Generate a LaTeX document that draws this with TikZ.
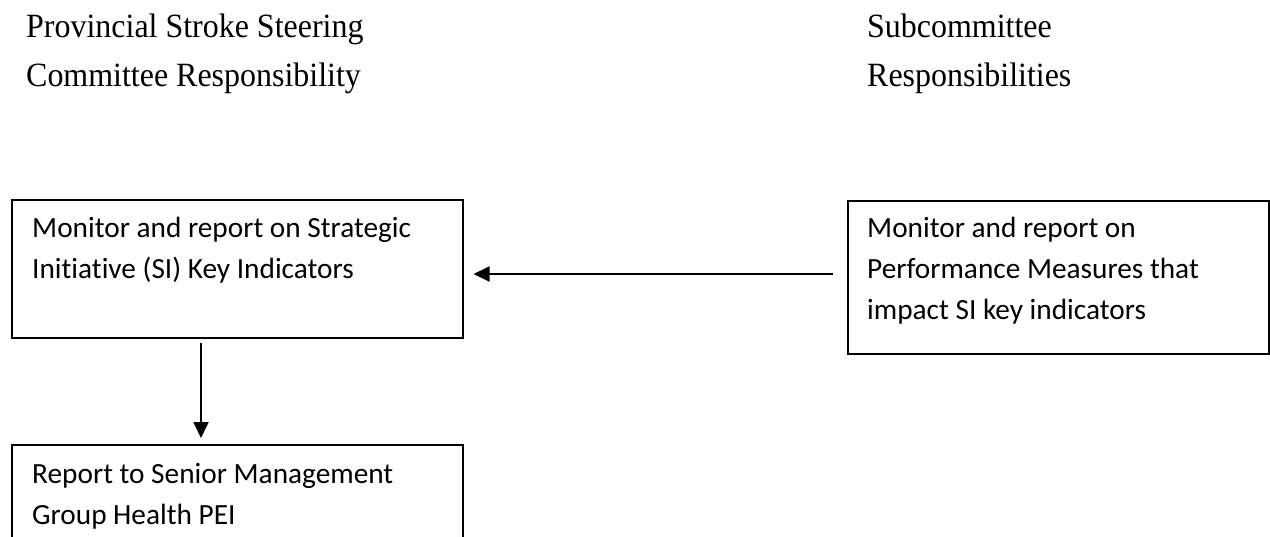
\documentclass[tikz,border=0pt]{standalone}
\usepackage{fontspec}
\setmainfont[FakeStretch=0.94]{Liberation Serif}
\newfontfamily\boxfont[Ligatures=NoCommon]{Carlito}
\usetikzlibrary{arrows.meta,calc}
\begin{document}
\begin{tikzpicture}[x=1pt,y=-1pt,
  box/.style={draw,line width=1.5pt,inner sep=0pt,anchor=north west},
  head/.style={anchor=north west,inner sep=0pt,align=left,font=\fontsize{34}{49}\selectfont},
  txt/.style={anchor=north west,inner sep=0pt,align=left,font=\boxfont\fontsize{29.3}{41}\selectfont},
  arr/.style={line width=1.8pt,-{Triangle[length=16pt,width=15pt]}}]
\useasboundingbox (0,0) rectangle (1270,536);
\clip (0,0) rectangle (1270,536);
% headings
\node[head] (h1) at (26,7) {\rule{0pt}{30pt}Provincial Stroke Steering\\Committee Responsibility};
\node[head] (h2) at (867,7) {\rule{0pt}{30pt}Subcommittee\\Responsibilities};
% boxes
\node[box,minimum width=451pt,minimum height=138pt] (A) at (11,199) {};
\node[box,minimum width=421pt,minimum height=153pt] (B) at (847,200) {};
\node[box,minimum width=451pt,minimum height=130pt] (C) at (11,444) {};
% box texts
\node[txt] (ta) at (32,212) {\rule{0pt}{25pt}Monitor and report on Strategic\\Initiative (SI) Key Indicators};
\node[txt] (tb) at (867,212) {\rule{0pt}{25pt}Monitor and report on\\Performance Measures that\\impact SI key indicators};
\node[txt] (tc) at (32,458) {\rule{0pt}{25pt}Report to Senior Management\\Group Health PEI};
% connectors
\coordinate (hy) at (0,274);
\coordinate (vx) at (201,0);
\draw[arr] ($(B.west |- hy)+(-14pt,0pt)$) -- ($(A.east |- hy)+(10pt,0pt)$);
\draw[arr] ($(A.south -| vx)+(0pt,-4pt)$) -- ($(C.north -| vx)+(0pt,6pt)$);
\end{tikzpicture}
\end{document}
